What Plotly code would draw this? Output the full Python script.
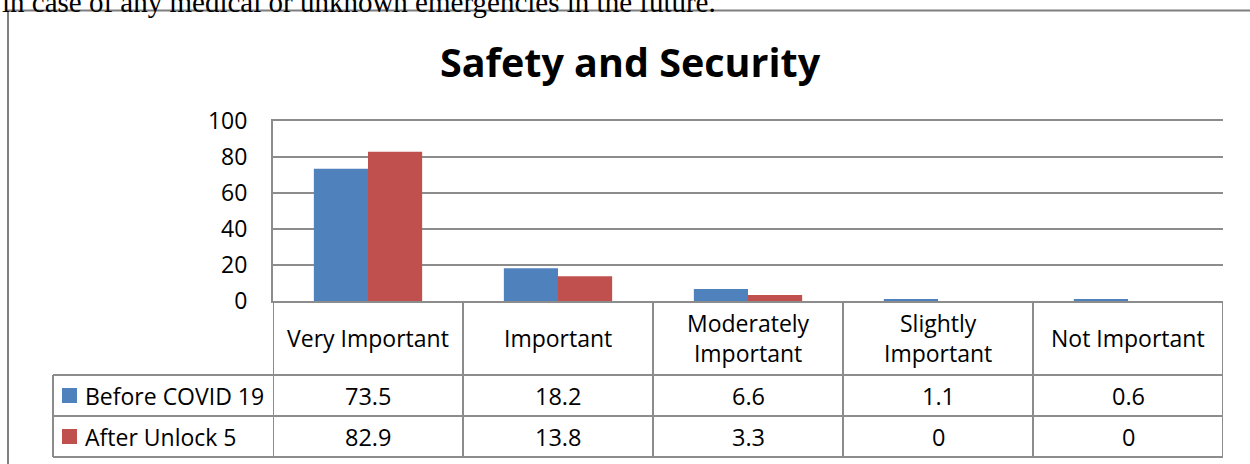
import plotly.graph_objects as go

# Survey data: importance of safety and security
categories = ["Very Important", "Important", "Moderately Important",
              "Slightly Important", "Not Important"]
category_labels = ["Very Important", "Important", "Moderately<br>Important",
                   "Slightly<br>Important", "Not Important"]
series_names = ["Before COVID 19", "After Unlock 5"]
before_covid = [73.5, 18.2, 6.6, 1.1, 0.6]
after_unlock = [82.9, 13.8, 3.3, 0, 0]
y_ticks = [0, 20, 40, 60, 80, 100]

W, H = 1250, 464
BLUE = "#4F81BD"
RED = "#C0504D"
GRID = "#8C8C8C"
FONT = "Open Sans"

def px(x):
    return x / W

def py(y):
    return 1 - y / H

# plot-area / table geometry in pixels
PLOT_L, PLOT_R = 273, 1223
PLOT_T, PLOT_B = 121, 301
ROW1_T, ROW2_T, ROW2_B = 375, 416, 457
LEG_L = 53

fig = go.Figure()
fig.add_trace(go.Bar(x=categories, y=before_covid, name=series_names[0],
                     marker=dict(color=BLUE, line=dict(width=0))))
fig.add_trace(go.Bar(x=categories, y=after_unlock, name=series_names[1],
                     marker=dict(color=RED, line=dict(width=0))))

shapes = []
annotations = []

# outer chart frame (continues past right and bottom edges)
shapes.append(dict(type="rect", xref="paper", yref="paper",
                   x0=px(8), x1=px(1300), y0=py(520), y1=py(10.5),
                   line=dict(color="#7F7F7F", width=2), layer="below"))

# data table grid
line_style = dict(color=GRID, width=2)
for i in range(len(categories) + 1):
    shapes.append(dict(type="line", xref="x", yref="paper",
                       x0=i - 0.5, x1=i - 0.5, y0=py(PLOT_B), y1=py(ROW2_B),
                       line=line_style))
for yy in (ROW1_T, ROW2_T, ROW2_B):
    shapes.append(dict(type="line", xref="paper", yref="paper",
                       x0=px(LEG_L), x1=px(PLOT_R), y0=py(yy), y1=py(yy),
                       line=line_style))
shapes.append(dict(type="line", xref="paper", yref="paper",
                   x0=px(LEG_L), x1=px(LEG_L), y0=py(ROW1_T), y1=py(ROW2_B),
                   line=line_style))

# category header cells
for i, lab in enumerate(category_labels):
    annotations.append(dict(x=i, xref="x", y=py((PLOT_B + ROW1_T) / 2), yref="paper",
                            text=lab, showarrow=False, xanchor="center", yanchor="middle",
                            font=dict(family=FONT, size=23, color="#000000")))

# series rows: legend key, name and values
rows = [(series_names[0], before_covid, BLUE, (ROW1_T + ROW2_T) / 2),
        (series_names[1], after_unlock, RED, (ROW2_T + ROW2_B) / 2)]
for name, vals, color, yc in rows:
    shapes.append(dict(type="rect", xref="paper", yref="paper",
                       x0=px(62), x1=px(77), y0=py(yc + 7.5), y1=py(yc - 7.5),
                       fillcolor=color, line=dict(width=0)))
    annotations.append(dict(x=px(83), xref="paper", y=py(yc), yref="paper",
                            text=name, showarrow=False, xanchor="left", yanchor="middle",
                            font=dict(family=FONT, size=23, color="#000000")))
    for i, v in enumerate(vals):
        annotations.append(dict(x=i, xref="x", y=py(yc), yref="paper",
                                text=f"{v:g}", showarrow=False,
                                xanchor="center", yanchor="middle",
                                font=dict(family=FONT, size=23.5, color="#000000")))

# chart title
annotations.append(dict(x=px(630), xref="paper", y=py(62), yref="paper",
                        text="<b>Safety and Security</b>", showarrow=False,
                        xanchor="center", yanchor="middle",
                        font=dict(family=FONT, size=39.5, color="#000000")))

# trailing line of the surrounding document text
annotations.append(dict(x=0, xref="paper", y=py(20), yref="paper",
                        text="in case of any medical or unknown emergencies in the future.",
                        showarrow=False, xanchor="left", yanchor="bottom",
                        font=dict(family="Liberation Serif", size=29, color="#000000")))

fig.update_layout(
    width=W, height=H, autosize=False,
    margin=dict(l=0, r=0, t=0, b=0, pad=0),
    paper_bgcolor="white", plot_bgcolor="white",
    barmode="group", bargap=0.43, bargroupgap=0,
    showlegend=False,
    shapes=shapes, annotations=annotations,
    xaxis=dict(domain=[px(PLOT_L), px(PLOT_R)], range=[-0.5, len(categories) - 0.5],
               showticklabels=False, ticks="", showgrid=False, zeroline=False,
               showline=True, mirror=True, linecolor=GRID, linewidth=2,
               automargin=False, fixedrange=True),
    yaxis=dict(domain=[py(PLOT_B), py(PLOT_T)], range=[0, 100],
               tickvals=y_ticks, showgrid=True, gridcolor=GRID, gridwidth=2,
               zeroline=False, showline=True, linecolor=GRID, linewidth=2,
               ticks="outside", ticklen=19, tickcolor="rgba(0,0,0,0)",
               tickfont=dict(family=FONT, size=23, color="#000000"),
               automargin=False, fixedrange=True),
)

fig.write_html("out.html")
